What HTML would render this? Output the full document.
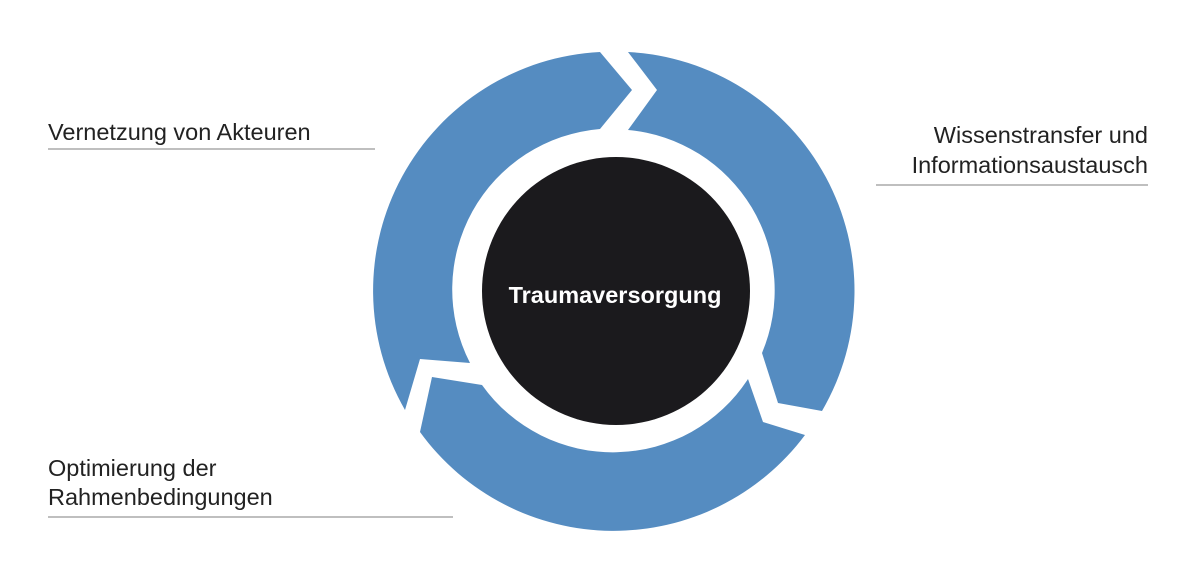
<!DOCTYPE html>
<html><head><meta charset="utf-8"><style>
html,body{margin:0;padding:0;background:#fff;}
body{width:1200px;height:582px;overflow:hidden;position:relative;font-family:"Liberation Sans",sans-serif;}
</style></head><body>
<svg width="1200" height="582" viewBox="0 0 1200 582" xmlns="http://www.w3.org/2000/svg" style="position:absolute;left:0;top:0">
<g fill="#558cc1">
<path d="M405,410 A239,239 0 0 1 600,52 L632,90 L600,129 A161,161 0 0 0 470,363 L420,359 Z"/>
<path d="M628,52 A239,239 0 0 1 822,411 L778,403 L762,353 A161,161 0 0 0 628,130 L657,90 Z"/>
<path d="M805,435 A239,239 0 0 1 420,432 L432,377 L482,385 A161,161 0 0 0 748,379 L763,422 Z"/>
</g>
<circle cx="616" cy="291" r="134" fill="#1b1a1d"/>
<text x="615" y="303" text-anchor="middle" fill="#fff" font-family="Liberation Sans, sans-serif" font-weight="bold" font-size="23.5">Traumaversorgung</text>
<g font-family="Liberation Sans, sans-serif" font-size="23.5" fill="#222">
<text x="48" y="140">Vernetzung von Akteuren</text>
<text x="1148" y="143" text-anchor="end">Wissenstransfer und</text>
<text x="1148" y="173" text-anchor="end">Informationsaustausch</text>
<text x="48" y="476">Optimierung der</text>
<text x="48" y="505">Rahmenbedingungen</text>
</g>
<g stroke="#aaa" stroke-width="1.5">
<line x1="48" y1="149" x2="375" y2="149"/>
<line x1="876" y1="185" x2="1148" y2="185"/>
<line x1="48" y1="517" x2="453" y2="517"/>
</g>
</svg>
</body></html>
